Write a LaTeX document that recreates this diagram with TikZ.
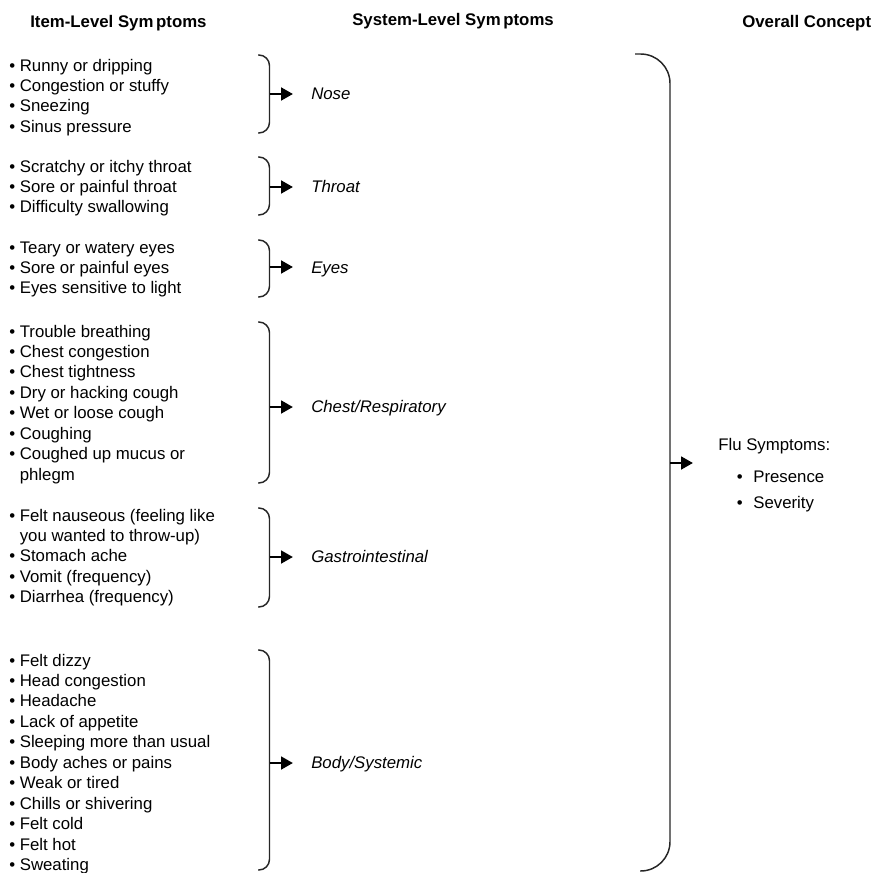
\documentclass[tikz,border=0pt]{standalone}
\usepackage{fontspec}
\setmainfont{Liberation Sans}
\usetikzlibrary{arrows.meta}
\newcommand\symitem[1]{\hbox{\textbullet\ #1}}
\newcommand\symcont[1]{\hbox{\phantom{\textbullet\ }#1}}
\newcommand\symlist[1]{\vtop{\baselineskip=15.34pt #1}}
\begin{document}
\begin{tikzpicture}[x=0.75pt,y=-0.75pt,
  every node/.style={inner sep=0pt, anchor=base west, font=\fontsize{12.6}{15.34}\selectfont},
  head/.style={font=\fontsize{12.6}{15}\selectfont\bfseries},
  sys/.style={font=\fontsize{12.6}{15}\selectfont\itshape},
  brace/.style={line width=1.1pt, draw=black!85, rounded corners=8pt},
  bigbrace/.style={line width=1.1pt, draw=black!85, rounded corners=22pt},
  arr/.style={line width=2.1pt, -{Triangle[length=9pt,width=9.5pt]}, shorten >=13.5pt},
  bigarr/.style={line width=2.1pt, -{Triangle[length=9pt,width=9.5pt]}, shorten >=18.75pt}]
\useasboundingbox (0,0) rectangle (875,872);

% headers
\node[head] (h1) at (30,27) {Item-Level Sym\kern2pt ptoms};
\node[head] (h2) at (352,25) {System-Level Sym\kern2pt ptoms};
\node[head] (h3) at (742,27) {Overall Concept};

% item lists
\node (g1) at (9,71) {\symlist{\symitem{Runny or dripping}\symitem{Congestion or stuffy}\symitem{Sneezing}\symitem{Sinus pressure}}};
\node (g2) at (9,172) {\symlist{\symitem{Scratchy or itchy throat}\symitem{Sore or painful throat}\symitem{Difficulty swallowing}}};
\node (g3) at (9,253) {\symlist{\symitem{Teary or watery eyes}\symitem{Sore or painful eyes}\symitem{Eyes sensitive to light}}};
\node (g4) at (9,337) {\symlist{\symitem{Trouble breathing}\symitem{Chest congestion}\symitem{Chest tightness}\symitem{Dry or hacking cough}\symitem{Wet or loose cough}\symitem{Coughing}\symitem{Coughed up mucus or}\symcont{phlegm}}};
\node (g5) at (9,521) {\symlist{\symitem{Felt nauseous (feeling like}\symcont{you wanted to throw-up)}\symitem{Stomach ache}\symitem{Vomit (frequency)}\symitem{Diarrhea (frequency)}}};
\node (g6) at (9,666) {\symlist{\symitem{Felt dizzy}\symitem{Head congestion}\symitem{Headache}\symitem{Lack of appetite}\symitem{Sleeping more than usual}\symitem{Body aches or pains}\symitem{Weak or tired}\symitem{Chills or shivering}\symitem{Felt cold}\symitem{Felt hot}\symitem{Sweating}}};

% system labels
\node[sys] (s1) at (311,99) {Nose};
\node[sys] (s2) at (311,192) {Throat};
\node[sys] (s3) at (311,273) {Eyes};
\node[sys] (s4) at (311,412) {Chest/Respiratory};
\node[sys] (s5) at (311,562) {Gastrointestinal};
\node[sys] (s6) at (311,768) {Body/Systemic};

% braces
\draw[brace] (258,55) -- (269.5,55) -- (269.5,133) -- (258,133);
\draw[brace] (258,157) -- (269.5,157) -- (269.5,215) -- (258,215);
\draw[brace] (258,240) -- (269.5,240) -- (269.5,297) -- (258,297);
\draw[brace] (258,322) -- (269.5,322) -- (269.5,483) -- (258,483);
\draw[brace] (258,508) -- (269.5,508) -- (269.5,607) -- (258,607);
\draw[brace] (258,650) -- (269.5,650) -- (269.5,870) -- (258,870);
\draw[bigbrace] (635,54) -- (670,54) -- (670,871) -- (640,871);

\coordinate (b1) at (269.5,94);
\coordinate (b2) at (269.5,187);
\coordinate (b3) at (269.5,267);
\coordinate (b4) at (269.5,407);
\coordinate (b5) at (269.5,557);
\coordinate (b6) at (269.5,763);
\coordinate (bb) at (670,463);

% overall concept
\node (flu) at (718,450) {Flu Symptoms:};
\node (pres) at (736.5,482) {\textbullet\hspace{8pt}Presence};
\node (sev) at (736.5,508) {\textbullet\hspace{8pt}Severity};

% arrows
\draw[arr] (b1) -- (b1 -| s1.west);
\draw[arr] (b2) -- (b2 -| s2.west);
\draw[arr] (b3) -- (b3 -| s3.west);
\draw[arr] (b4) -- (b4 -| s4.west);
\draw[arr] (b5) -- (b5 -| s5.west);
\draw[arr] (b6) -- (b6 -| s6.west);
\draw[bigarr] (bb) -- (bb -| flu.west);
\end{tikzpicture}
\end{document}
